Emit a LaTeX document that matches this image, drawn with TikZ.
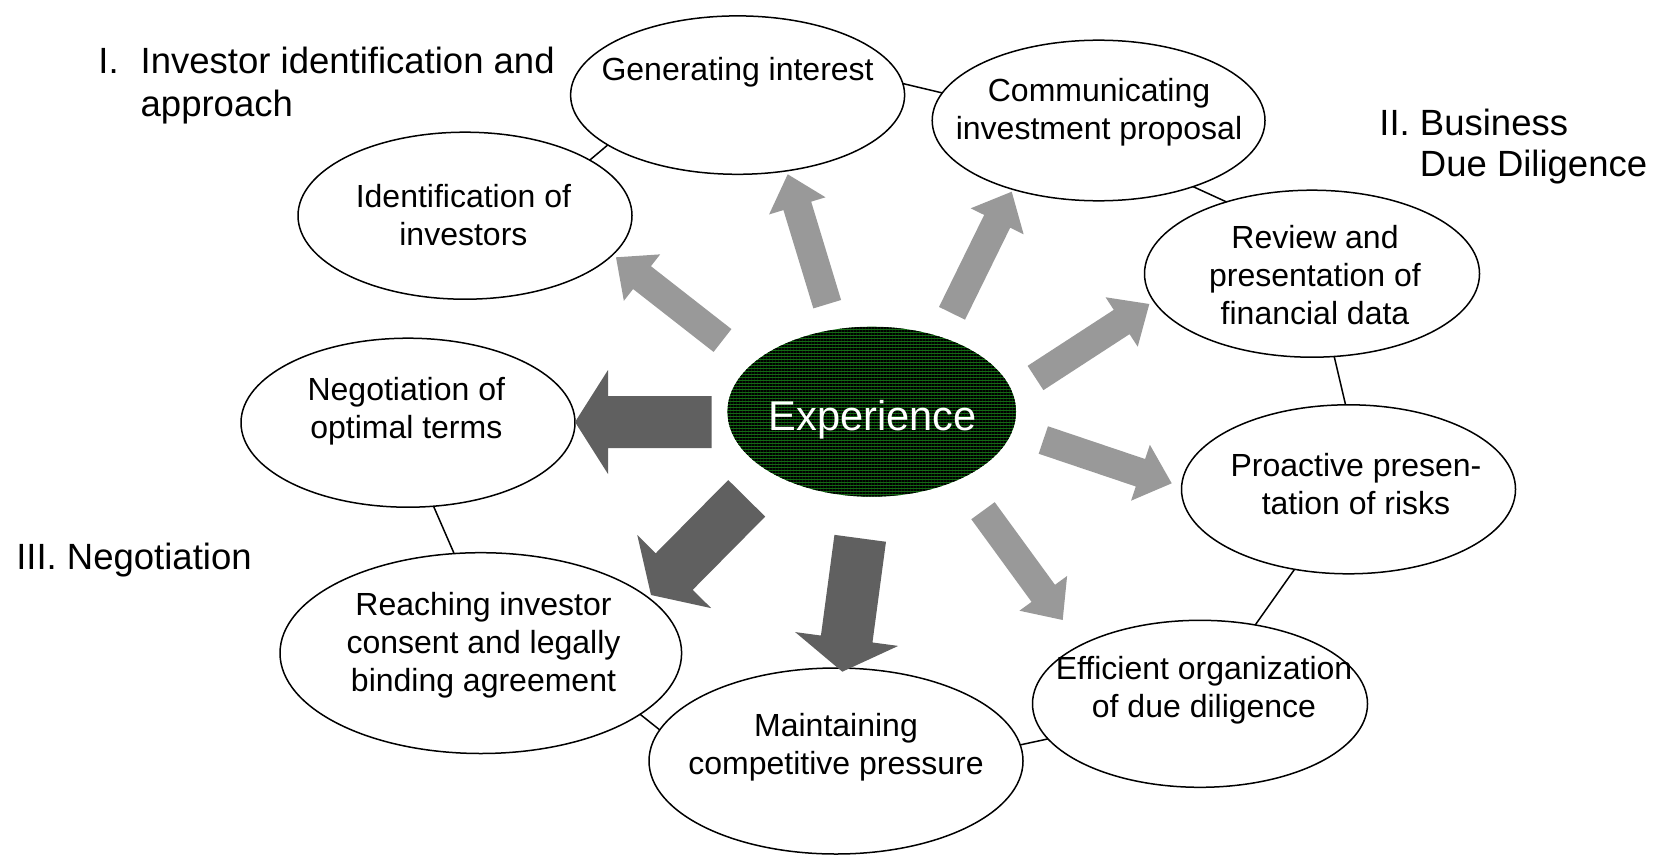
\documentclass[tikz,border=0pt]{standalone}
\usepackage{fontspec}
\setmainfont{Liberation Sans}
\usetikzlibrary{shapes.geometric,calc,patterns.meta}
\definecolor{lightarr}{RGB}{153,153,153}
\definecolor{darkarr}{RGB}{96,96,96}
\definecolor{expgreen}{RGB}{20,105,20}
\newcommand{\blockarr}[6]{%
  \coordinate (#1-h) at ($(#3)!16.5pt!(#2)$);
  \fill[#6] ($(#2)!#4!90:(#3)$) -- ($(#1-h)!#4!90:(#3)$) -- ($(#1-h)!#5!90:(#3)$) -- (#3)
    -- ($(#1-h)!#5!-90:(#3)$) -- ($(#1-h)!#4!-90:(#3)$) -- ($(#2)!#4!-90:(#3)$) -- cycle;}
\begin{document}
\begin{tikzpicture}[x=0.5pt,y=-0.5pt,
  bub/.style={ellipse,draw=black,fill=white,line width=0.75pt,inner sep=0pt,outer sep=0pt},
  btxt/.style={font=\fontsize{16}{19}\selectfont,align=center,inner sep=0pt},
  lbl/.style={font=\fontsize{18.25}{21.5}\selectfont,align=left,inner sep=0pt},
  link/.style={draw=black,line width=0.75pt},
  lightarrow/.style={fill=lightarr},
  darkarrow/.style={fill=darkarr}]
\useasboundingbox (0,0) rectangle (1657,856);

% central node
\node[ellipse,minimum width=144.3pt,minimum height=85pt,inner sep=0pt,
  preaction={fill=expgreen},pattern={Lines[angle=0,distance=1.5pt,line width=0.75pt]},
  pattern color=black] (exp) at (871.7,411.7) {};
\node[font=\fontsize{20.8}{24}\selectfont,text=white,anchor=base,inner sep=0pt] (exp-t) at (872.5,430) {Experience};

% surrounding ellipses
\node[bub,minimum width=167pt,minimum height=79.2pt] (gen) at (737.6,95.1) {};
\node[bub,minimum width=166.4pt,minimum height=80.3pt] (comm) at (1098.6,120.5) {};
\node[bub,minimum width=167pt,minimum height=83.5pt] (id) at (465,215.7) {};
\node[bub,minimum width=167.5pt,minimum height=83.5pt] (review) at (1312,273.7) {};
\node[bub,minimum width=167pt,minimum height=84.5pt] (neg) at (408,422.7) {};
\node[bub,minimum width=167pt,minimum height=84.5pt] (pro) at (1348.5,489.3) {};
\node[bub,minimum width=200.8pt,minimum height=100.4pt] (reach) at (480.8,653.1) {};
\node[bub,minimum width=167.5pt,minimum height=83.5pt] (eff) at (1200,703.8) {};
\node[bub,minimum width=187pt,minimum height=93pt] (maint) at (836,761) {};

% texts
\node[btxt] (gen-t) at (737.6,72) {Generating interest};
\node[btxt] (comm-t) at (1099,112) {Communicating\\investment proposal};
\node[btxt] (id-t) at (463.4,215.5) {Identification of\\investors};
\node[btxt] (review-t) at (1315,275.5) {Review and\\presentation of\\financial data};
\node[btxt] (neg-t) at (406.3,411) {Negotiation of\\optimal terms};
\node[btxt] (pro-t) at (1356,484.5) {Proactive presen-\\tation of risks};
\node[btxt] (reach-t) at (483.5,645) {Reaching investor\\consent and legally\\binding agreement};
\node[btxt] (eff-t) at (1204,690) {Efficient organization\\of due diligence};
\node[btxt] (maint-t) at (836,747) {Maintaining\\competitive pressure};

% ring connectors
\draw[link] (id.24) -- (gen.201);
\draw[link] (gen.4) -- (comm.170);
\draw[link] (comm.-35) -- (review.140);
\draw[link] (review.-75) -- (pro.92);
\draw[link] (pro.236) -- (eff.55);
\draw[link] (eff.193) -- (maint.5);
\draw[link] (maint.170) -- (reach.-21);
\draw[link] (reach.105) -- (neg.-73);

% block arrows
\coordinate (a1s) at (722.5,340.5);  \coordinate (a1e) at (616,257.3);
\coordinate (a2s) at (827.2,304.2);  \coordinate (a2e) at (787.7,174.3);
\coordinate (a3s) at (952,313.3);    \coordinate (a3e) at (1011.7,191.7);
\coordinate (a4s) at (1035.5,378);   \coordinate (a4e) at (1149.3,304);
\coordinate (a5s) at (1043.3,440);   \coordinate (a5e) at (1171.7,483.3);
\coordinate (a6s) at (983,510.7);    \coordinate (a6e) at (1062.7,620);
\coordinate (a7s) at (860.2,538.3);  \coordinate (a7e) at (842.3,671.7);
\coordinate (a8s) at (746.7,498.3);  \coordinate (a8e) at (651,595);
\coordinate (a9s) at (711.7,422);    \coordinate (a9e) at (575,422);
\blockarr{a1}{a1s}{a1e}{7.25pt}{14.75pt}{lightarrow}
\blockarr{a2}{a2s}{a2e}{7.25pt}{14.75pt}{lightarrow}
\blockarr{a3}{a3s}{a3e}{7.25pt}{14.75pt}{lightarrow}
\blockarr{a4}{a4s}{a4e}{7.25pt}{14.75pt}{lightarrow}
\blockarr{a5}{a5s}{a5e}{7.25pt}{14.75pt}{lightarrow}
\blockarr{a6}{a6s}{a6e}{7.25pt}{14.75pt}{lightarrow}
\blockarr{a7}{a7s}{a7e}{13pt}{26pt}{darkarrow}
\blockarr{a8}{a8s}{a8e}{13pt}{26pt}{darkarrow}
\blockarr{a9}{a9s}{a9e}{13pt}{26pt}{darkarrow}

% phase labels
\node[lbl,anchor=west] (lab1) at (98,85.2) {\makebox[21.15pt][l]{I.}Investor identification and\\\hspace*{21.15pt}approach};
\node[lbl,anchor=west,font=\fontsize{18.25}{20.8}\selectfont] (lab2) at (1379,146.5) {II. Business\\\hphantom{II.}\ Due Diligence};
\node[lbl,anchor=base west] (lab3) at (15.9,569) {III. Negotiation};
\end{tikzpicture}
\end{document}
